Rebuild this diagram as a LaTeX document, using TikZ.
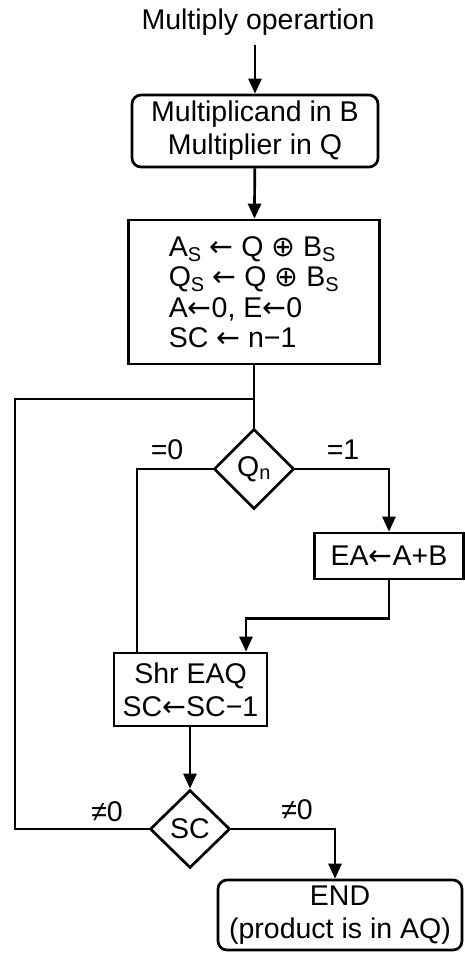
\documentclass[tikz,border=0pt]{standalone}
\usepackage{fontspec}
\setmainfont{Liberation Sans}
\newfontfamily\symfont{DejaVu Sans}
\newcommand{\larr}{{\symfont ←}}
\usetikzlibrary{arrows.meta,shapes.geometric}
\begin{document}
\begin{tikzpicture}[x=1pt,y=-1pt, line width=2.7pt,
  font=\fontsize{28.5}{33}\selectfont,
  box/.style={draw, inner sep=0pt, align=center},
  rbox/.style={box, rounded corners=9pt},
  dec/.style={draw, diamond, minimum width=80pt, minimum height=80pt, inner sep=0pt},
  flow/.style={-{Triangle[length=15pt,width=13pt]}},
  lbl/.style={inner sep=0pt}]
\useasboundingbox[fill=white] (0,0) rectangle (464,956);

\node[lbl] (title) at (258,22) {Multiply operartion};
\node[rbox, minimum width=246pt, minimum height=72pt] (init) at (255,131) {Multiplicand in B\\Multiplier in Q};
\node[box, minimum width=251pt, minimum height=144pt, align=left, font=\fontsize{28.5}{30.5}\selectfont] (setup) at (254,292)
  {A\textsubscript{S} \larr\ Q {\symfont ⊕} B\textsubscript{S}\\Q\textsubscript{S} \larr\ Q {\symfont ⊕} B\textsubscript{S}\\A\larr0, E\larr0\\SC \larr\ n−1};
\node[dec] (qn) at (254,469) {Q\textsubscript{n}};
\node[box, minimum width=149pt, minimum height=46pt] (add) at (389,556) {EA\larr A+B};
\node[box, minimum width=153pt, minimum height=73pt] (shift) at (190.5,689.5) {Shr EAQ\\SC\larr SC−1};
\node[dec, minimum height=78pt] (sc) at (190,829) {SC};
\node[rbox, minimum width=244pt, minimum height=70pt] (end) at (340,915) {END\\(product is in AQ)};

\node[lbl] (l0) at (167,450) {=0};
\node[lbl] (l1) at (343,450) {=1};
\node[lbl] (n0a) at (107,812) {≠0};
\node[lbl] (n0b) at (297,810) {≠0};

\coordinate (loopL) at (15,399);
\coordinate (loopJ) at (254,399);

\draw[flow, shorten <=8pt] (init.north |- title.south) -- (init.north);
\draw[flow] (init) -- (setup);
\draw (setup.south) -- (qn.north);
\draw (sc.west) -| (loopL) -- (loopJ);
\draw (qn.west) -| ([xshift=-53.5pt]shift.north);
\draw[flow] (qn.east) -| (add.north);
\draw[flow] (add.south) -- ++(0,38) -| ([xshift=55.5pt]shift.north);
\draw[flow] (shift.south -| sc.north) -- (sc.north);
\draw[flow] (sc.east) -| ([xshift=-5pt]end.north);
\end{tikzpicture}
\end{document}
